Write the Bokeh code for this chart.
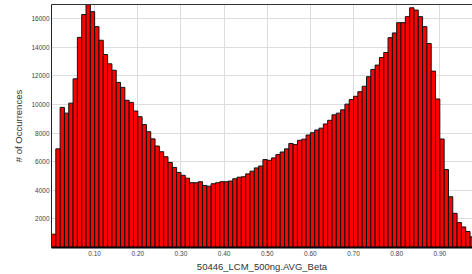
from bokeh.plotting import figure
from bokeh.models import Range1d, FixedTicker, NumeralTickFormatter, LinearAxis
from bokeh.embed import file_html
from bokeh.resources import INLINE

# Histogram of beta values, bin width 0.01 starting at 0.00
bin_width = 0.01
counts = [
    930, 6900, 9800, 9400, 10100, 11800, 14700, 16300, 16990, 16500,
    15450, 14500, 13500, 12850, 12400, 11550, 11200, 10300, 10150, 9550,
    9150, 8600, 8100, 7600, 7100, 6700, 6350, 5950, 5600, 5250,
    5050, 4850, 4530, 4530, 4600, 4340, 4290, 4460, 4530, 4600,
    4600, 4650, 4810, 4920, 4950, 5150, 5340, 5570, 5700, 6150,
    6100, 6270, 6500, 6680, 6900, 7280, 7200, 7500, 7580, 7870,
    8030, 8220, 8350, 8640, 8900, 9280, 9400, 9630, 10030, 10350,
    10580, 10900, 11280, 11950, 12460, 12760, 13290, 13640, 14680, 15010,
    15730, 15730, 16150, 16770, 16610, 16150, 15450, 14270, 12340, 10390,
    7590, 5450, 3550, 2390, 1745, 1440, 1120, 745,
]
x_ticks = [0.1, 0.2, 0.3, 0.4, 0.5, 0.6, 0.7, 0.8, 0.9]
y_ticks = [2000, 4000, 6000, 8000, 10000, 12000, 14000, 16000]
x_title = "50446_LCM_500ng.AVG_Beta"
y_title = "# of Occurrences"

lefts = [round(i * bin_width, 2) for i in range(len(counts))]
rights = [round((i + 1) * bin_width, 2) for i in range(len(counts))]

FONT = "Liberation Sans"

p = figure(width=472, height=274, output_backend="svg", toolbar_location=None,
           x_range=Range1d(0, 0.9757), y_range=Range1d(0, 17000),
           min_border_left=51, min_border_right=0, min_border_top=4,
           min_border_bottom=26)
p.outline_line_color = None
p.background_fill_color = "white"
p.border_fill_color = "white"

p.quad(left=lefts, right=rights, bottom=0, top=counts,
       fill_color="#FF0000", line_color="#111111", line_width=1)

# axes
xa = p.xaxis[0]
xa.ticker = FixedTicker(ticks=x_ticks)
xa.formatter = NumeralTickFormatter(format="0.00")
xa.axis_line_color = "black"
xa.axis_line_width = 2
xa.major_tick_out = 0
xa.major_tick_in = 0
xa.minor_tick_out = 0
xa.minor_tick_in = 0
xa.major_label_text_font = FONT
xa.major_label_text_font_size = "6.5px"
xa.major_label_text_color = "#444444"
xa.major_label_standoff = 3
xa.axis_label = x_title
xa.axis_label_text_font = FONT
xa.axis_label_text_font_size = "9.5px"
xa.axis_label_text_font_style = "normal"
xa.axis_label_text_color = "#333333"
xa.axis_label_standoff = 2

ya = p.yaxis[0]
ya.ticker = FixedTicker(ticks=y_ticks)
ya.formatter = NumeralTickFormatter(format="0")
ya.axis_line_color = "#222222"
ya.axis_line_width = 1
ya.major_tick_out = 0
ya.major_tick_in = 0
ya.minor_tick_out = 0
ya.minor_tick_in = 0
ya.major_label_text_font = FONT
ya.major_label_text_font_size = "6.5px"
ya.major_label_text_color = "#444444"
ya.major_label_standoff = 2
ya.axis_label = y_title
ya.axis_label_text_font = FONT
ya.axis_label_text_font_size = "9.5px"
ya.axis_label_text_font_style = "normal"
ya.axis_label_text_color = "#333333"
ya.axis_label_standoff = 4

# top border as an empty axis
top = LinearAxis(ticker=FixedTicker(ticks=[]), axis_line_color="#333333",
                 axis_line_width=1, major_tick_out=0, major_tick_in=0,
                 minor_tick_out=0, minor_tick_in=0, major_label_standoff=0,
                 major_label_text_font_size="0px")
p.add_layout(top, "above")

p.xgrid.ticker = FixedTicker(ticks=x_ticks)
p.ygrid.ticker = FixedTicker(ticks=y_ticks)
p.xgrid.grid_line_color = "#dddddd"
p.ygrid.grid_line_color = "#dddddd"
p.xgrid.grid_line_width = 1
p.ygrid.grid_line_width = 1

open("out.html", "w").write(file_html(p, INLINE))
